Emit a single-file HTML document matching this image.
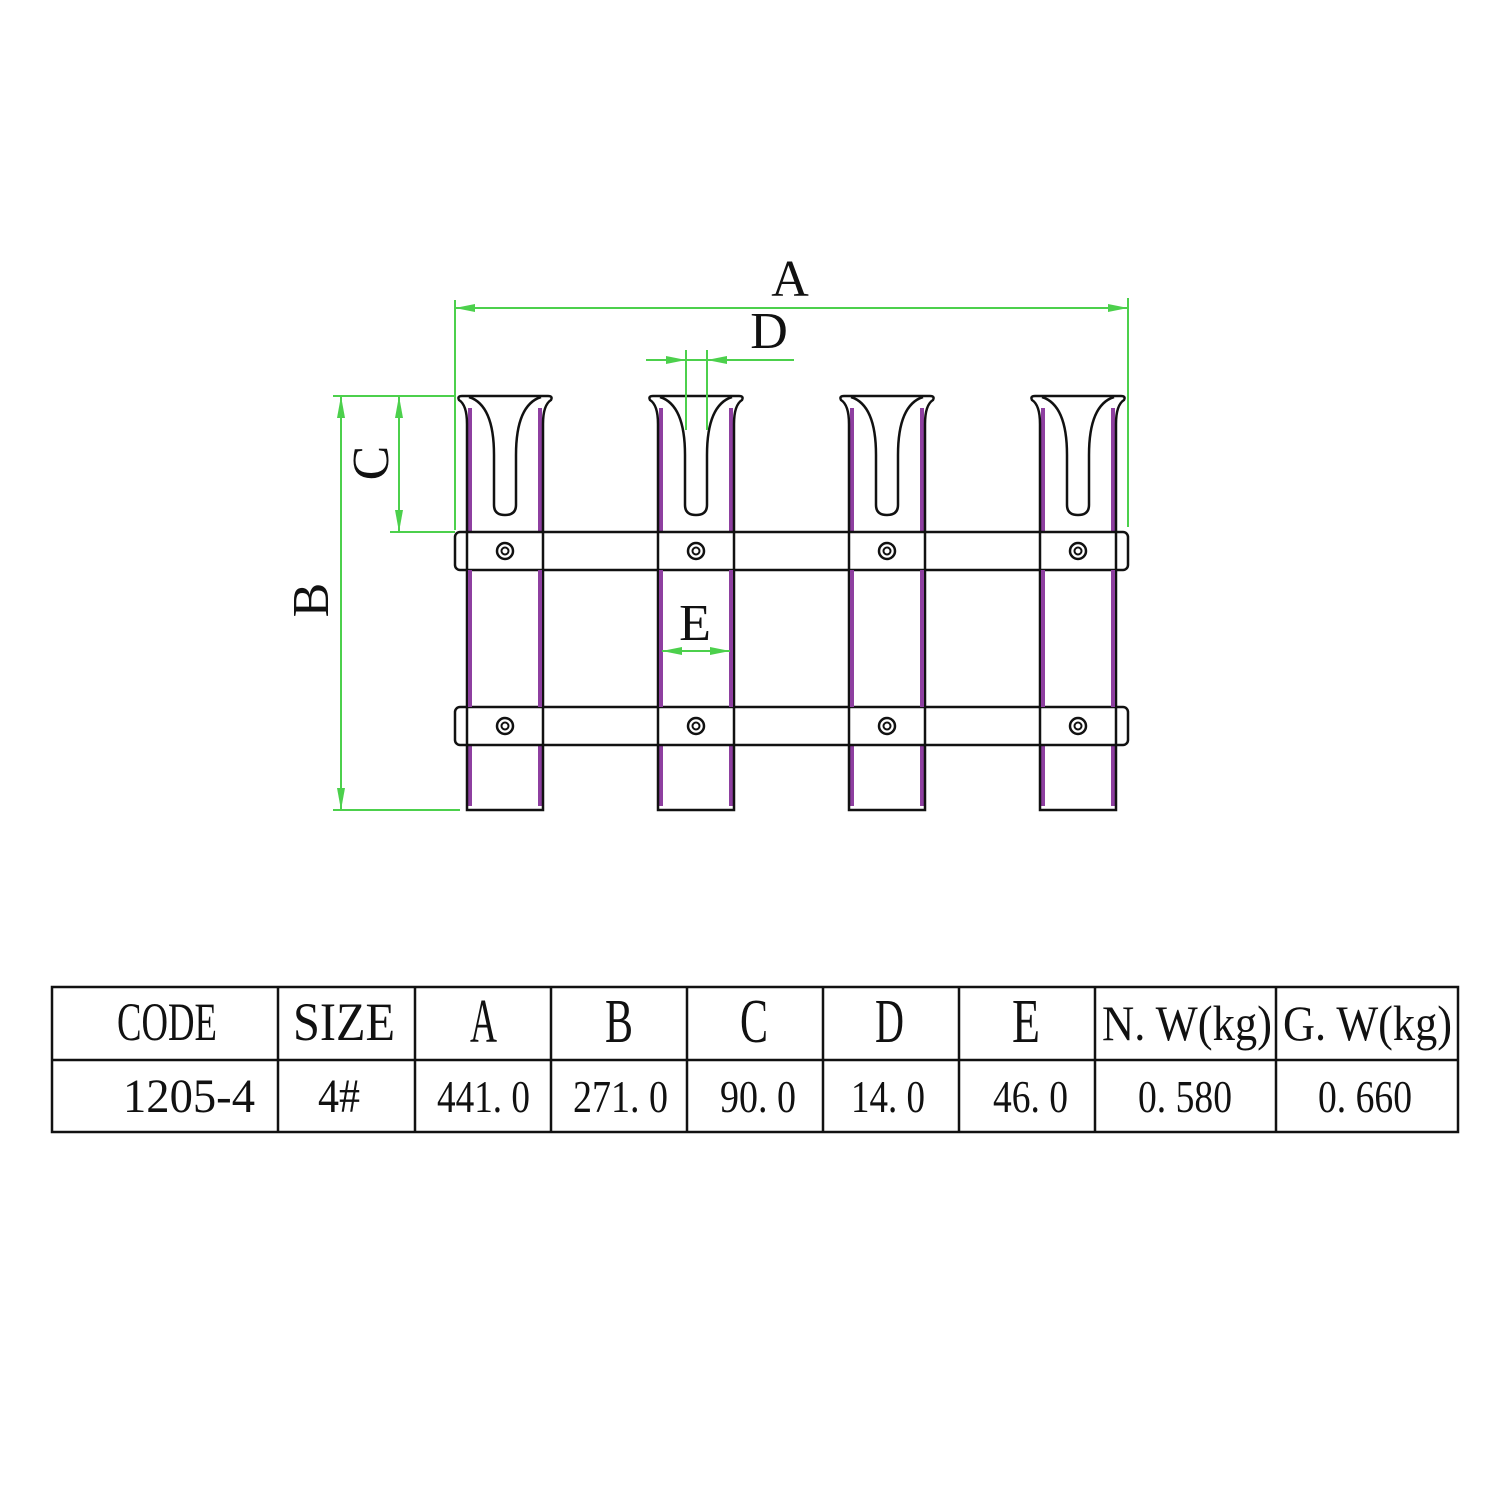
<!DOCTYPE html>
<html><head><style>html,body{margin:0;padding:0;background:#fff}svg{display:block}</style></head><body>
<svg width="1500" height="1500" viewBox="0 0 1500 1500" xmlns="http://www.w3.org/2000/svg">
<rect width="1500" height="1500" fill="#fff"/>
<defs>
<g id="tube">
  <!-- purple inner shading -->
  <path d="M-35,408 L-35,806" stroke="#8e3fa0" stroke-width="4" fill="none"/>
  <path d="M35,408 L35,806" stroke="#8e3fa0" stroke-width="4" fill="none"/>
  <!-- outer profile -->
  <path d="M-38,810 L-38,424 Q-38,405 -46,400 Q-48,396 -43,396 L43,396 Q48,396 46,400 Q38,405 38,424 L38,810 Z" stroke="#111" stroke-width="2.5" fill="none"/>
  <!-- slot -->
  <path d="M-36,397 Q-11,405 -11,455 L-11,505 Q-11,515 0,515 Q11,515 11,505 L11,455 Q11,405 36,397" stroke="#111" stroke-width="2.5" fill="none"/>
</g>
<g id="bolt"><circle r="8" stroke="#111" stroke-width="2.5" fill="#fff"/><circle r="3.5" stroke="#111" stroke-width="2" fill="none"/></g>
</defs>
<use href="#tube" x="505"/>
<use href="#tube" x="696"/>
<use href="#tube" x="887"/>
<use href="#tube" x="1078"/>
<!-- bars -->
<rect x="455" y="532" width="673" height="38" rx="5" stroke="#111" stroke-width="2.5" fill="#fff"/>
<rect x="455" y="707" width="673" height="38" rx="5" stroke="#111" stroke-width="2.5" fill="#fff"/>
<g stroke="#111" stroke-width="2.5">
<line x1="467" y1="532" x2="467" y2="570"/><line x1="543" y1="532" x2="543" y2="570"/>
<line x1="658" y1="532" x2="658" y2="570"/><line x1="734" y1="532" x2="734" y2="570"/>
<line x1="849" y1="532" x2="849" y2="570"/><line x1="925" y1="532" x2="925" y2="570"/>
<line x1="1040" y1="532" x2="1040" y2="570"/><line x1="1116" y1="532" x2="1116" y2="570"/>
<line x1="467" y1="707" x2="467" y2="745"/><line x1="543" y1="707" x2="543" y2="745"/>
<line x1="658" y1="707" x2="658" y2="745"/><line x1="734" y1="707" x2="734" y2="745"/>
<line x1="849" y1="707" x2="849" y2="745"/><line x1="925" y1="707" x2="925" y2="745"/>
<line x1="1040" y1="707" x2="1040" y2="745"/><line x1="1116" y1="707" x2="1116" y2="745"/>
</g>
<g stroke="#8e3fa0" stroke-width="4">
<line x1="470" y1="570" x2="470" y2="707"/><line x1="540" y1="570" x2="540" y2="707"/>
<line x1="661" y1="570" x2="661" y2="707"/><line x1="731" y1="570" x2="731" y2="707"/>
<line x1="852" y1="570" x2="852" y2="707"/><line x1="922" y1="570" x2="922" y2="707"/>
<line x1="1043" y1="570" x2="1043" y2="707"/><line x1="1113" y1="570" x2="1113" y2="707"/>
</g>
<use href="#bolt" x="505" y="551"/><use href="#bolt" x="696" y="551"/><use href="#bolt" x="887" y="551"/><use href="#bolt" x="1078" y="551"/>
<use href="#bolt" x="505" y="726"/><use href="#bolt" x="696" y="726"/><use href="#bolt" x="887" y="726"/><use href="#bolt" x="1078" y="726"/>

<!-- dimensions -->
<g stroke="#4cd04c" stroke-width="2" fill="none">
<line x1="455" y1="300" x2="455" y2="530"/>
<line x1="1128" y1="298" x2="1128" y2="527"/>
<line x1="455" y1="308" x2="1128" y2="308"/>
<line x1="646" y1="360" x2="794" y2="360"/>
<line x1="686" y1="350" x2="686" y2="430"/>
<line x1="707" y1="350" x2="707" y2="430"/>
<line x1="388" y1="396" x2="455" y2="396"/>
<line x1="390" y1="532" x2="455" y2="532"/>
<line x1="399" y1="396" x2="399" y2="532"/>
<line x1="333" y1="396" x2="455" y2="396"/>
<line x1="333" y1="810" x2="460" y2="810"/>
<line x1="341" y1="396" x2="341" y2="810"/>
<line x1="662" y1="651" x2="730" y2="651"/>
</g>
<g fill="#4cd04c">
<polygon points="455,308 475,304 475,312"/>
<polygon points="1128,308 1108,304 1108,312"/>
<polygon points="686,360 666,356 666,364"/>
<polygon points="707,360 727,356 727,364"/>
<polygon points="399,396 395,418 403,418"/>
<polygon points="399,532 395,510 403,510"/>
<polygon points="341,396 337,418 345,418"/>
<polygon points="341,810 337,788 345,788"/>
<polygon points="662,651 682,647 682,655"/>
<polygon points="730,651 710,647 710,655"/>
</g>
<g font-family="Liberation Serif, serif" fill="#111" font-size="52">
<text x="790" y="296" text-anchor="middle">A</text>
<text x="769" y="348" text-anchor="middle">D</text>
<text x="695" y="640" text-anchor="middle">E</text>
<text transform="translate(388,463) rotate(-90)" text-anchor="middle">C</text>
<text transform="translate(328,600) rotate(-90)" text-anchor="middle">B</text>
</g>

<!-- table -->
<g stroke="#111" stroke-width="2.5" fill="none">
<rect x="52" y="987" width="1406" height="145"/>
<line x1="52" y1="1060" x2="1458" y2="1060"/>
<line x1="278" y1="987" x2="278" y2="1132"/>
<line x1="415" y1="987" x2="415" y2="1132"/>
<line x1="551" y1="987" x2="551" y2="1132"/>
<line x1="687" y1="987" x2="687" y2="1132"/>
<line x1="823" y1="987" x2="823" y2="1132"/>
<line x1="959" y1="987" x2="959" y2="1132"/>
<line x1="1095" y1="987" x2="1095" y2="1132"/>
<line x1="1276" y1="987" x2="1276" y2="1132"/>
</g>
<g font-family="Liberation Serif, serif" fill="#111" lengthAdjust="spacingAndGlyphs">
<text x="117" y="1040" font-size="54" textLength="100" lengthAdjust="spacingAndGlyphs">CODE</text>
<text x="293" y="1040" font-size="54" textLength="102" lengthAdjust="spacingAndGlyphs">SIZE</text>
<text x="470" y="1042" font-size="62" textLength="27" lengthAdjust="spacingAndGlyphs">A</text>
<text x="605" y="1042" font-size="62" textLength="28" lengthAdjust="spacingAndGlyphs">B</text>
<text x="740" y="1042" font-size="62" textLength="28" lengthAdjust="spacingAndGlyphs">C</text>
<text x="875" y="1042" font-size="62" textLength="29" lengthAdjust="spacingAndGlyphs">D</text>
<text x="1012" y="1042" font-size="62" textLength="28" lengthAdjust="spacingAndGlyphs">E</text>
<text x="1102" y="1040" font-size="50" textLength="170" lengthAdjust="spacingAndGlyphs">N. W(kg)</text>
<text x="1283" y="1040" font-size="50" textLength="169" lengthAdjust="spacingAndGlyphs">G. W(kg)</text>
<text x="123" y="1112" font-size="48" textLength="132" lengthAdjust="spacingAndGlyphs">1205-4</text>
<text x="318" y="1112" font-size="48" textLength="42" lengthAdjust="spacingAndGlyphs">4#</text>
<text x="437" y="1112" font-size="46" textLength="93" lengthAdjust="spacingAndGlyphs">441. 0</text>
<text x="573" y="1112" font-size="46" textLength="95" lengthAdjust="spacingAndGlyphs">271. 0</text>
<text x="720" y="1112" font-size="46" textLength="76" lengthAdjust="spacingAndGlyphs">90. 0</text>
<text x="851" y="1112" font-size="46" textLength="74" lengthAdjust="spacingAndGlyphs">14. 0</text>
<text x="993" y="1112" font-size="46" textLength="75" lengthAdjust="spacingAndGlyphs">46. 0</text>
<text x="1138" y="1112" font-size="46" textLength="94" lengthAdjust="spacingAndGlyphs">0. 580</text>
<text x="1318" y="1112" font-size="46" textLength="94" lengthAdjust="spacingAndGlyphs">0. 660</text>
</g>
</svg>
</body></html>
